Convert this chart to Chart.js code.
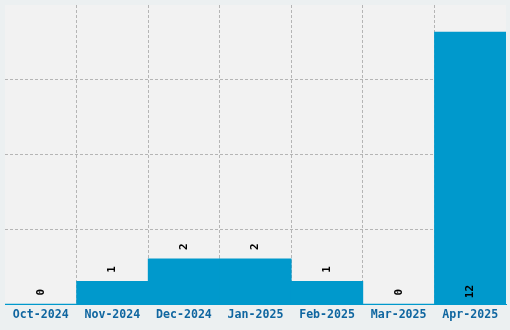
<!DOCTYPE html>
<html>
<head>
<meta charset="utf-8">
<script src="https://cdn.jsdelivr.net/npm/chart.js@4"></script>
<style>
  body { margin: 0; background: #ecf0f1; }
  .wrap { width: 510px; height: 330px; }
</style>
</head>
<body>
<div class="wrap"><canvas class="chart"></canvas></div>
<script>
const months = ['Oct-2024', 'Nov-2024', 'Dec-2024', 'Jan-2025', 'Feb-2025', 'Mar-2025', 'Apr-2025'];
const counts = [0, 1, 2, 2, 1, 0, 12];
const yTicks = [0, 3.3, 6.6, 9.9, 13.2];

const gridColor = 'rgba(0,0,0,0.25)';
const monoFont = "'DejaVu Sans Mono', monospace";

// light grey plot area
const plotBg = {
  id: 'plotBg',
  beforeDraw(chart) {
    const { ctx, chartArea: a } = chart;
    ctx.save();
    ctx.fillStyle = '#f2f2f2';
    ctx.fillRect(a.left, a.top, a.right - a.left, a.bottom - a.top);
    ctx.restore();
  }
};

// rotated value labels
const valueLabels = {
  id: 'valueLabels',
  afterDraw(chart) {
    const { ctx, chartArea: a } = chart;
    const meta = chart.getDatasetMeta(0);
    ctx.save();
    ctx.font = "bold 11px " + monoFont;
    ctx.fillStyle = '#000';
    ctx.textAlign = 'center';
    ctx.textBaseline = 'middle';
    meta.data.forEach((bar, i) => {
      const tall = (bar.base - bar.y) > (a.bottom - a.top) / 2;
      const cy = tall ? bar.base - 12 : bar.y - 12;
      ctx.save();
      ctx.translate(bar.x, cy);
      ctx.rotate(-Math.PI / 2);
      ctx.fillText(String(counts[i]), 0, 0);
      ctx.restore();
    });
    ctx.restore();
  }
};

const config = {
  type: 'bar',
  data: {
    labels: months,
    datasets: [{
      data: counts,
      backgroundColor: '#0099cc',
      borderWidth: 0,
      barPercentage: 1,
      categoryPercentage: 1
    }]
  },
  options: {
    responsive: true,
    maintainAspectRatio: false,
    animation: false,
    layout: { padding: { left: 5, right: 4, top: 5, bottom: 4 } },
    plugins: {
      legend: { display: false },
      tooltip: { enabled: false }
    },
    scales: {
      x: {
        z: 1,
        offset: true,
        grid: {
          offset: true,
          drawTicks: false,
          lineWidth: 1,
          color: (c) => (c.type !== 'tick' || c.index === 0) ? 'transparent' : gridColor
        },
        border: { display: true, color: '#0099cc', width: 1, dash: [3, 2] },
        ticks: {
          padding: 4,
          color: '#0f66a0',
          font: { family: monoFont, size: 11.6, weight: 'bold' },
          maxRotation: 0
        }
      },
      y: {
        z: 1,
        min: 0,
        max: 13.2,
        afterBuildTicks: (scale) => { scale.ticks = yTicks.map(v => ({ value: v })); },
        grid: {
          drawTicks: false,
          color: (c) => (c.index === 0 || c.index === yTicks.length - 1) ? 'transparent' : gridColor
        },
        border: { display: false, dash: [3, 2] },
        ticks: { display: false }
      }
    }
  },
  plugins: [plotBg, valueLabels]
};

const myChart = new Chart(document.querySelector('.chart'), config);
</script>
</body>
</html>
